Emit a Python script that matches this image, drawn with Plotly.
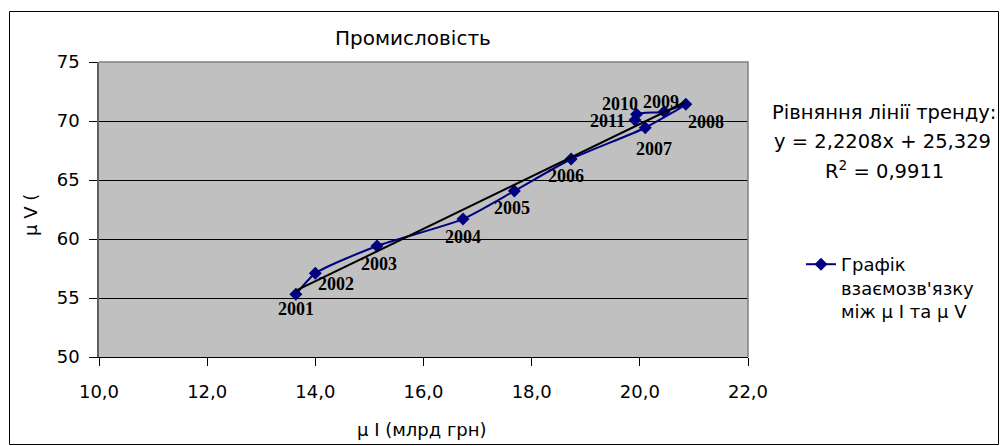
import plotly.graph_objects as go

years = ["2001", "2002", "2003", "2004", "2005", "2006", "2007", "2008", "2009", "2010", "2011"]
mu_I = [13.64, 14.00, 15.14, 16.73, 17.68, 18.73, 20.10, 20.85, 20.45, 19.94, 19.91]
mu_V = [55.31, 57.09, 59.41, 61.69, 64.07, 66.78, 69.43, 71.42, 70.79, 70.57, 70.08]
trend_slope = 2.2208
trend_intercept = 25.329
r_squared = "0,9911"

# label offsets in pixels (style, not data)
label_dx = [0, 21, 2, 0, -2, -5, 9, 20, -3, -17, -27]
label_dy = [-15, -11, -18, -18, -17, -17, -21, -18, 10, 10, -1]

FONT = "DejaVu Sans, Arial, sans-serif"
SERIF = "Liberation Serif, Times New Roman, serif"
W, H = 1001, 446
L, R, T, B = 99, 253, 62, 89
PW = W - L - R
PH = H - T - B


def px2paper_x(px):
    return (px - L) / PW


def px2paper_y(py):
    return (H - B - py) / PH


def text_at(px, py, text, size, **kw):
    fig.add_annotation(xref="paper", yref="paper", x=px2paper_x(px), y=px2paper_y(py),
                       xanchor="center", yanchor="middle", text=text, showarrow=False,
                       font=dict(family=FONT, size=size, color="black"), **kw)


fig = go.Figure()

fig.add_trace(go.Scatter(
    x=mu_I, y=mu_V, mode="lines+markers",
    line=dict(color="#000080", width=2, shape="spline", smoothing=0.6),
    marker=dict(symbol="diamond", size=10, color="#000080"),
    name="Графік<br>взаємозв'язку<br>між μ I та μ V",
    showlegend=True,
))

tx = [min(mu_I), max(mu_I)]
ty = [trend_slope * v + trend_intercept for v in tx]
fig.add_trace(go.Scatter(
    x=tx, y=ty, mode="lines",
    line=dict(color="black", width=2),
    showlegend=False, hoverinfo="skip",
))

for yr, xv, yv, dx, dy in zip(years, mu_I, mu_V, label_dx, label_dy):
    fig.add_annotation(x=xv, y=yv, text="<b>%s</b>" % yr, showarrow=False,
                       xshift=dx, yshift=dy, xanchor="center", yanchor="middle",
                       font=dict(family=SERIF, size=18, color="black"))

slope_s = ("%.4f" % trend_slope).replace(".", ",")
inter_s = ("%.3f" % trend_intercept).replace(".", ",")
text_at(884, 112, "Рівняння лінії тренду:", 19.5)
text_at(882, 141, "y = %sx + %s" % (slope_s, inter_s), 19.5)
text_at(884, 170, "R<sup>2</sup> = %s" % r_squared, 19.5)

text_at(413, 38, "Промисловість", 20)
text_at(422, 429, "μ I (млрд грн)", 18)
text_at(30, 215, "μ V (", 18, textangle=-90)

# outer chart border
fig.add_shape(type="rect", xref="paper", yref="paper",
              x0=px2paper_x(9.5), x1=px2paper_x(998.5), y0=px2paper_y(444.5), y1=px2paper_y(11.5),
              line=dict(color="black", width=1), layer="above")
# plot area border (top, right)
fig.add_shape(type="path", xref="paper", yref="paper",
              path="M 0 1 L 1 1 L 1 0", line=dict(color="#808080", width=1.5), layer="above")

fig.update_layout(
    width=W, height=H,
    margin=dict(l=L, r=R, t=T, b=B, pad=0),
    paper_bgcolor="white", plot_bgcolor="#c0c0c0",
    separators=", ",
    font=dict(family=FONT, size=18, color="black"),
    legend=dict(x=px2paper_x(801), y=px2paper_y(246), xanchor="left", yanchor="top",
                bgcolor="rgba(0,0,0,0)", valign="top", tracegroupgap=0,
                font=dict(family=FONT, size=18, color="black"), itemwidth=30),
    xaxis=dict(range=[10, 22], dtick=2, tick0=10, tickformat=".1f",
               showgrid=False, zeroline=False, showline=True, linecolor="black", linewidth=1,
               ticks="outside", ticklen=8, tickcolor="black", ticklabelstandoff=10,
               tickfont=dict(family=FONT, size=18)),
    yaxis=dict(range=[50, 75], dtick=5, tick0=50,
               showgrid=True, gridcolor="black", gridwidth=1, zeroline=False,
               showline=True, linecolor="#606060", linewidth=1.5,
               ticks="outside", ticklen=8, tickcolor="black", ticklabelstandoff=6,
               tickfont=dict(family=FONT, size=18)),
)

fig.write_html("out.html", config={"displayModeBar": False},
               post_script="document.body.style.margin='0px';")
